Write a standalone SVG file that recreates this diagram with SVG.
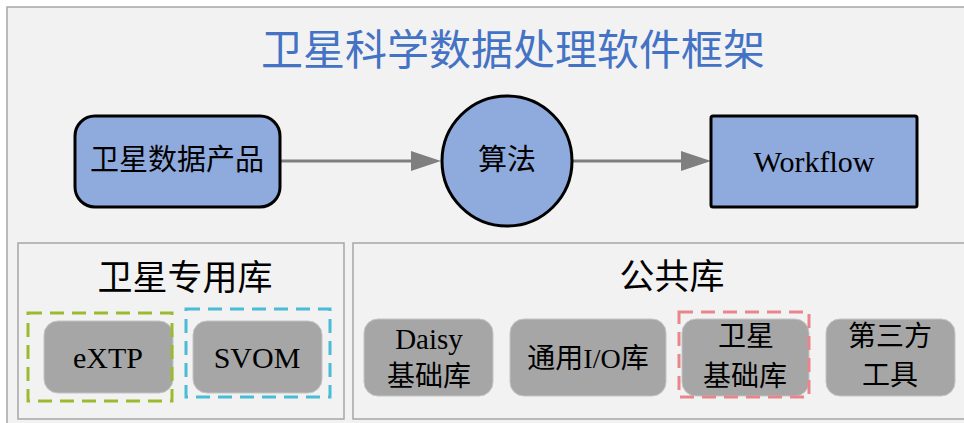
<svg xmlns="http://www.w3.org/2000/svg" width="964" height="423" viewBox="0 0 964 423">
<style>
text{font-family:"Liberation Serif","Noto Sans CJK SC",serif;text-anchor:middle;dominant-baseline:central;fill:#000}
.panel{fill:#F2F2F2;stroke:#A6A6A6;stroke-width:1.5}
.main{fill:#8FAADC;stroke:#000;stroke-width:3}
.lib{fill:#A6A6A6;stroke:#C4C4C4;stroke-width:1}
.dash{fill:none;stroke-width:3;stroke-dasharray:14 8}
.conn{stroke:#7F7F7F;stroke-width:3;fill:none}
.t29{font-size:29px}
.t28{font-size:28px}
.lat{font-size:30px}
.t35{font-size:35px}
</style>
<defs>
<marker id="arr" markerUnits="userSpaceOnUse" markerWidth="30" markerHeight="20" refX="1" refY="10" orient="auto">
<path d="M0,0 L30,10 L0,20 z" fill="#7F7F7F"/>
</marker>
</defs>
<rect x="0" y="0" width="964" height="423" fill="#FFFFFF"/>
<rect class="panel" x="7" y="7" width="970" height="430"/>
<text x="513" y="51" style="font-size:42px;fill:#4472C4">卫星科学数据处理软件框架</text>

<g id="connectors">
<line class="conn" x1="280" y1="161" x2="412" y2="161" marker-end="url(#arr)"/>
<line class="conn" x1="572" y1="161" x2="682" y2="161" marker-end="url(#arr)"/>
</g>

<g id="node-product">
<rect class="main" x="75" y="116" width="205" height="91" rx="20"/>
<text class="t29" x="177" y="160">卫星数据产品</text>
</g>
<g id="node-algorithm">
<circle class="main" cx="507" cy="161" r="65"/>
<text class="t29" x="507" y="160">算法</text>
</g>
<g id="node-workflow">
<rect class="main" x="711" y="116" width="206" height="91" rx="2"/>
<text class="lat" x="814" y="161">Workflow</text>
</g>

<g id="panel-satellite">
<rect class="panel" x="18" y="243" width="326" height="176"/>
<text class="t35" x="185" y="278">卫星专用库</text>
</g>
<g id="node-extp">
<rect class="lib" x="44" y="321" width="129" height="72" rx="14"/>
<rect class="dash" x="28" y="313" width="144" height="88" stroke="#9BBB2E"/>
<text class="lat" x="108" y="357">eXTP</text>
</g>
<g id="node-svom">
<rect class="lib" x="193" y="321" width="129" height="72" rx="14"/>
<rect class="dash" x="186" y="309" width="144" height="88" stroke="#4BBCD6"/>
<text class="lat" x="257" y="357">SVOM</text>
</g>

<g id="panel-common">
<rect class="panel" x="353" y="243" width="620" height="176"/>
<text class="t35" x="672" y="277">公共库</text>
</g>
<g id="node-daisy">
<rect class="lib" x="364" y="319" width="129" height="77" rx="14"/>
<text class="t29" x="429" y="339">Daisy</text>
<text class="t28" x="429" y="376">基础库</text>
</g>
<g id="node-io">
<rect class="lib" x="510" y="319" width="156" height="77" rx="14"/>
<text class="t28" x="588" y="358">通用I/O库</text>
</g>
<g id="node-satbase">
<rect class="lib" x="682" y="319" width="127" height="77" rx="14"/>
<rect class="dash" x="679" y="312" width="130" height="85" stroke="#E8868B"/>
<text class="t28" x="746" y="336">卫星</text>
<text class="t28" x="745" y="376">基础库</text>
</g>
<g id="node-thirdparty">
<rect class="lib" x="826" y="319" width="129" height="77" rx="14"/>
<text class="t28" x="890" y="336">第三方</text>
<text class="t28" x="890" y="375">工具</text>
</g>
</svg>
